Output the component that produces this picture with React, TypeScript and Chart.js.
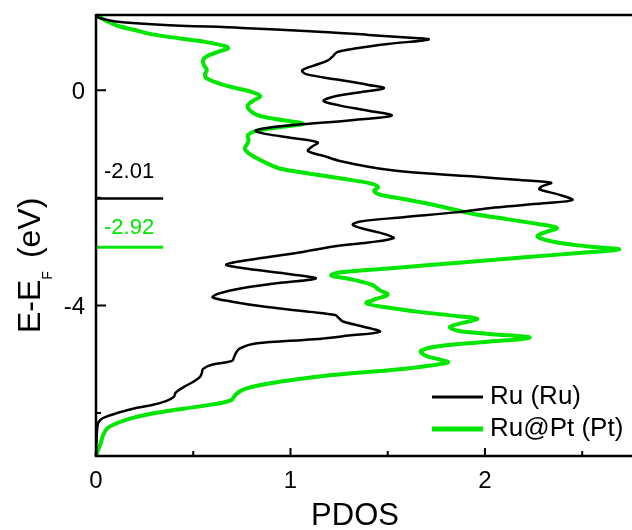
import { useEffect, useRef } from "react";
import { Chart, registerables } from "chart.js";

Chart.register(...registerables);

// Projected density of states, energy relative to the Fermi level (eV)
const ruEnergy = [
  1.37, 1.33, 1.28, 1.22, 1.16, 1.1, 1.03, 0.98, 0.945, 0.86, 0.78, 0.71, 0.64, 0.55, 0.46, 0.37, 0.3,
  0.2, 0.1, 0.04, -0.04, -0.12, -0.2, -0.28, -0.38, -0.47, -0.56, -0.63, -0.7, -0.75, -0.81, -0.89,
  -0.97, -1.05, -1.13, -1.22, -1.32, -1.42, -1.51, -1.6, -1.67, -1.72, -1.79, -1.84, -1.94, -2.04,
  -2.1, -2.18, -2.27, -2.36, -2.44, -2.5, -2.58, -2.67, -2.75, -2.83, -2.9, -3.01, -3.12, -3.24, -3.32,
  -3.42, -3.5, -3.58, -3.68, -3.78, -3.85, -3.93, -4.03, -4.12, -4.18, -4.24, -4.3, -4.4, -4.49, -4.56,
  -4.63, -4.71, -4.8, -4.88, -4.96, -5.03, -5.1, -5.18, -5.25, -5.33, -5.42, -5.52, -5.62, -5.7, -5.78,
  -5.85, -5.92, -6.0, -6.06, -6.12, -6.2, -6.4, -6.8,
];
const ruPdos = [
  0.0, 0.03, 0.1, 0.33, 0.75, 1.1, 1.4, 1.6, 1.71, 1.5, 1.34, 1.24, 1.22, 1.19, 1.12, 1.06, 1.08,
  1.24, 1.4, 1.48, 1.35, 1.22, 1.17, 1.25, 1.4, 1.52, 1.3, 1.06, 0.88, 0.82, 0.87, 1.02,
  1.14, 1.11, 1.09, 1.17, 1.26, 1.4, 1.58, 1.93, 2.18, 2.34, 2.29, 2.28, 2.38, 2.45,
  2.3, 2.05, 1.85, 1.58, 1.36, 1.32, 1.38, 1.48, 1.53, 1.4, 1.23, 1.055, 0.85, 0.67, 0.78,
  1.0, 1.13, 0.95, 0.75, 0.63, 0.6, 0.7, 0.88, 1.1, 1.23, 1.25, 1.27, 1.38, 1.46, 1.3,
  1.12, 0.82, 0.74, 0.72, 0.71, 0.7, 0.6, 0.55, 0.545, 0.535, 0.5, 0.45, 0.41, 0.4, 0.36,
  0.29, 0.19, 0.11, 0.06, 0.025, 0.01, 0.004, 0.0,
];

const ptEnergy = [
  1.4, 1.36, 1.28, 1.2, 1.12, 1.04, 0.97, 0.9, 0.83, 0.78, 0.72, 0.64, 0.56, 0.47, 0.38, 0.3, 0.22,
  0.13, 0.04, -0.03, -0.11, -0.19, -0.28, -0.37, -0.46, -0.54, -0.62, -0.69, -0.76, -0.84, -0.93,
  -1.01, -1.09, -1.17, -1.25, -1.36, -1.46, -1.55, -1.64, -1.73, -1.8, -1.87, -1.94, -2.02, -2.15,
  -2.29, -2.4, -2.49, -2.56, -2.64, -2.72, -2.82, -2.9, -2.96, -3.02, -3.1, -3.2, -3.3, -3.38, -3.44,
  -3.52, -3.62, -3.72, -3.8, -3.88, -3.96, -4.04, -4.12, -4.2, -4.25, -4.32, -4.4, -4.47, -4.53,
  -4.6, -4.68, -4.76, -4.85, -4.94, -5.0, -5.06, -5.12, -5.19, -5.29, -5.39, -5.47, -5.56, -5.65,
  -5.76, -5.84, -5.92, -6.01, -6.1, -6.2, -6.28, -6.4, -6.55, -6.8,
];
const ptPdos = [
  0.0, 0.02, 0.06, 0.11, 0.2, 0.29, 0.42, 0.56, 0.655, 0.68, 0.63, 0.575, 0.55, 0.555, 0.57, 0.56, 0.57,
  0.63, 0.72, 0.8, 0.845, 0.81, 0.78, 0.79, 0.83, 0.93, 1.065, 0.93, 0.82, 0.78, 0.785,
  0.775, 0.765, 0.785, 0.82, 0.88, 0.95, 1.1, 1.26, 1.41, 1.45, 1.43, 1.46, 1.58, 1.76,
  1.93, 2.12, 2.28, 2.37, 2.31, 2.27, 2.36, 2.52, 2.69, 2.5, 2.22, 1.88, 1.55, 1.27, 1.21,
  1.32, 1.42, 1.46, 1.5, 1.44, 1.39, 1.5, 1.66, 1.86, 1.96, 1.89, 1.82, 1.86, 2.02,
  2.23, 2.0, 1.76, 1.67, 1.7, 1.76, 1.81, 1.71, 1.55, 1.23, 1.0, 0.86, 0.76, 0.72,
  0.695, 0.6, 0.45, 0.29, 0.18, 0.1, 0.06, 0.038, 0.025, 0.0,
];

const seriesLabels = ["Ru (Ru)", "Ru@Pt (Pt)"];
const seriesColors = ["#000000", "#00e600"];

// d-band centres (eV)
const bandCentres = [-2.01, -2.92];
const bandCentreLabels = ["-2.01", "-2.92"];
const bandCentreSpan = 0.345;

const xTickValues = [0, 0.5, 1, 1.5, 2, 2.5];
const xTickLabels = ["0", "", "1", "", "2", ""];
const yTickValues = [0, -2, -4, -6];
const yTickLabels = ["0", "", "-4", ""];

const FONT = '"Liberation Sans", Arial, Helvetica, sans-serif';

const framePlugin = {
  id: "pdosFrame",
  afterDatasetsDraw(chart: any) {
    const { ctx, chartArea, scales } = chart;
    const xs = scales.x;
    const ys = scales.y;
    const { left, top, right, bottom } = chartArea;
    ctx.save();

    // d-band centre markers
    const labelLift = [20, 13];
    bandCentres.forEach((e, i) => {
      const py = ys.getPixelForValue(e);
      ctx.strokeStyle = seriesColors[i];
      ctx.lineWidth = i === 0 ? 2.5 : 3;
      ctx.beginPath();
      ctx.moveTo(xs.getPixelForValue(0), py);
      ctx.lineTo(xs.getPixelForValue(bandCentreSpan), py);
      ctx.stroke();
      ctx.fillStyle = seriesColors[i];
      ctx.font = `22px ${FONT}`;
      ctx.textAlign = "left";
      ctx.textBaseline = "alphabetic";
      ctx.fillText(bandCentreLabels[i], left + 8, py - labelLift[i]);
    });

    // frame
    ctx.strokeStyle = "#000";
    ctx.lineWidth = 2.5;
    ctx.beginPath();
    ctx.moveTo(left, top);
    ctx.lineTo(right, top);
    ctx.moveTo(left, top - 1);
    ctx.lineTo(left, bottom + 1.2);
    ctx.moveTo(left - 1.2, bottom);
    ctx.lineTo(right, bottom);
    ctx.stroke();

    // ticks (inward)
    ctx.lineWidth = 2;
    ctx.beginPath();
    yTickValues.forEach((v, i) => {
      const py = ys.getPixelForValue(v);
      const len = yTickLabels[i] ? 10 : 5;
      ctx.moveTo(left, py);
      ctx.lineTo(left + len, py);
    });
    xTickValues.forEach((v, i) => {
      const px = xs.getPixelForValue(v);
      const len = xTickLabels[i] ? 8 : 5;
      ctx.moveTo(px, bottom);
      ctx.lineTo(px, bottom - len);
    });
    ctx.stroke();

    // tick labels
    ctx.fillStyle = "#000";
    ctx.font = `24px ${FONT}`;
    ctx.textBaseline = "alphabetic";
    ctx.textAlign = "right";
    yTickValues.forEach((v, i) => {
      if (!yTickLabels[i]) return;
      ctx.fillText(yTickLabels[i], left - 11, ys.getPixelForValue(v) + 8.5);
    });
    ctx.textAlign = "center";
    xTickValues.forEach((v, i) => {
      if (!xTickLabels[i]) return;
      ctx.fillText(xTickLabels[i], xs.getPixelForValue(v), bottom + 32);
    });

    // x title
    ctx.font = `31px ${FONT}`;
    ctx.textAlign = "center";
    ctx.fillText("PDOS", 355, bottom + 69);

    // y title: E-E_F (eV)
    ctx.save();
    ctx.translate(40, 333);
    ctx.rotate(-Math.PI / 2);
    ctx.textAlign = "left";
    ctx.font = `32px ${FONT}`;
    ctx.fillText("E-E", 0, 0);
    const w1 = ctx.measureText("E-E").width;
    ctx.font = `14px ${FONT}`;
    ctx.fillText("F", w1, 12);
    const wF = ctx.measureText("F").width;
    ctx.font = `32px ${FONT}`;
    ctx.fillText("(eV)", w1 + wF + 13, 0);
    ctx.restore();

    // legend
    const rows = [397, 429];
    chart.data.datasets.forEach((ds: any, i: number) => {
      ctx.strokeStyle = ds.borderColor;
      ctx.lineWidth = i === 0 ? 3 : 5;
      ctx.beginPath();
      ctx.moveTo(432, rows[i]);
      ctx.lineTo(483, rows[i]);
      ctx.stroke();
      ctx.fillStyle = "#000";
      ctx.font = `26px ${FONT}`;
      ctx.textAlign = "left";
      ctx.fillText(ds.label, 490, rows[i] + 7);
    });

    ctx.restore();
  },
};

export default function App() {
  const canvasRef = useRef<HTMLCanvasElement | null>(null);

  useEffect(() => {
    const canvas = canvasRef.current;
    if (!canvas) return;
    const series = [
      { e: ruEnergy, d: ruPdos, width: 2.5 },
      { e: ptEnergy, d: ptPdos, width: 4 },
    ];
    const chart = new Chart(canvas, {
      type: "scatter",
      data: {
        datasets: series.map((s, i) => ({
          label: seriesLabels[i],
          data: s.e.map((e, k) => ({ x: s.d[k], y: e })),
          showLine: true,
          borderColor: seriesColors[i],
          backgroundColor: seriesColors[i],
          borderWidth: s.width,
          pointRadius: 0,
          tension: 0.35,
          fill: false,
          clip: 4,
        })),
      },
      options: {
        responsive: false,
        animation: false,
        devicePixelRatio: 1,
        layout: { padding: { left: 96, top: 15, right: 0, bottom: 74 } },
        plugins: { legend: { display: false }, tooltip: { enabled: false } },
        events: [],
        scales: {
          x: { type: "linear", min: 0, max: 2.756, display: false },
          y: { type: "linear", min: -6.8, max: 1.4, display: false },
        },
      },
      plugins: [framePlugin],
    });
    return () => chart.destroy();
  }, []);

  return (
    <div style={{ position: "fixed", left: 0, top: 0, width: 632, height: 530, background: "#fff" }}>
      <canvas ref={canvasRef} width={632} height={530} />
    </div>
  );
}
